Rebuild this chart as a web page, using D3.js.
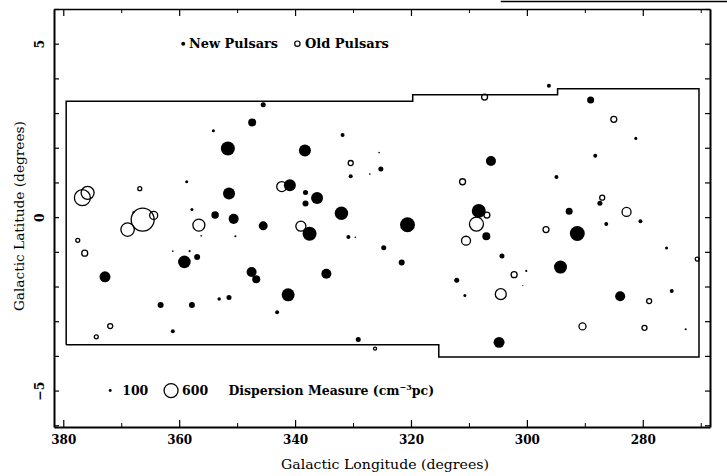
<!DOCTYPE html>
<html><head><meta charset="utf-8">
<script src="https://cdn.jsdelivr.net/npm/d3@7"></script>
<style>body{margin:0;background:#fff}</style>
</head><body>
<svg id="c" width="727" height="476"></svg>
<script>
// ---- data (galactic longitude, latitude in degrees; DM in cm^-3 pc) ----
const newLon = [354.1,351.6,358.7,351.4,353.8,350.6,367.9,357.8,356.2,350.3,
  361.1,358.2,359.1,356.9,372.8,353.1,351.4,363.2,357.8,361.1,
  345.5,347.4,338.3,331.8,325.5,330.4,327.1,325.2,340.9,338.2,
  336.2,338.2,332.0,345.5,337.5,330.8,329.6,324.7,347.5,346.7,
  334.6,341.2,343.1,329.1,306.2,308.3,320.6,307.0,321.6,304.3,
  300.1,300.7,312.1,310.7,304.8,296.2,289.0,281.2,288.2,294.9,
  287.4,292.7,280.4,286.3,291.3,275.9,294.2,283.9,275.0,272.6];
const newLat = [2.49,1.98,1.02,0.68,0.06,-0.05,0.14,0.22,-0.54,-0.55,
  -0.98,-0.98,-1.29,-1.15,-1.72,-2.36,-2.32,-2.53,-2.53,-3.29,
  3.24,2.73,1.92,2.37,1.86,1.18,1.24,1.39,0.92,0.71,
  0.55,0.39,0.11,-0.25,-0.48,-0.57,-0.58,-0.88,-1.58,-1.79,
  -1.63,-2.24,-2.74,-3.53,1.62,0.18,-0.22,-0.55,-1.31,-1.12,
  -1.55,-1.97,-1.82,-2.26,-3.61,3.79,3.38,2.27,1.77,1.16,
  0.40,0.17,-0.12,-0.20,-0.47,-0.89,-1.44,-2.28,-2.13,-3.23];
const newDM = [130,600,130,515,320,430,90,130,70,90,
  70,90,540,257,470,150,215,257,257,170,
  215,343,515,170,70,170,70,215,515,215,
  515,257,575,385,600,170,70,215,430,343,
  430,557,170,215,430,600,640,343,257,215,
  90,50,215,130,470,170,300,130,170,170,
  215,300,170,170,640,130,557,430,170,90];

const oldLon = [376.7,375.8,366.8,366.3,368.9,364.4,356.6,377.5,376.3,371.9,
  374.3,330.4,342.3,339.0,326.2,307.3,311.1,308.7,306.9,310.5,
  302.2,304.5,285.0,287.0,282.8,296.7,270.6,290.4,278.9,279.7];
const oldLat = [0.56,0.70,0.82,-0.07,-0.36,0.05,-0.23,-0.67,-1.04,-3.14,
  -3.45,1.56,0.88,-0.26,-3.79,3.46,1.02,-0.20,0.06,-0.68,
  -1.66,-2.22,2.82,0.56,0.15,-0.36,-1.21,-3.15,-2.42,-3.19];
const oldDM = [685,557,170,985,575,343,515,170,257,215,
  170,215,430,430,130,257,257,600,257,385,
  257,470,257,215,385,257,170,300,215,215];

// survey region boundary
const boundaryLon = [379.5,379.5,319.7,319.7,294.7,294.7,270.3,270.3,315.2,315.2,379.5];
const boundaryLat = [-3.68,3.34,3.34,3.53,3.53,3.70,3.70,-4.03,-4.03,-3.68,-3.68];

// ticks
const xMajorTicks = [380,360,340,320,300,280];
const xMinorTicks = [370,350,330,310,290,270];
const yTicks = [-6,-5,-4,-3,-2,-1,0,1,2,3,4,5,6];
const yLabelTicks = [-5,0,5];

// legend
const legendDM = [100,600];
const legendDMLabels = ["100","600"];
const typeLabels = ["New Pulsars","Old Pulsars"];

// ---- drawing ----
const W = 727, H = 476;
const svg = d3.select("#c");
const x = d3.scaleLinear().domain([381.6, 268.4]).range([54, 710]);
const y = d3.scaleLinear().domain([-6.05, 6.0]).range([427, 9]);
const r = d3.scaleLinear().domain([0, 600]).range([0, 7]);
const FONT = "'DejaVu Serif', 'Liberation Serif', serif";

function styleAxis(g, sw) {
  g.select(".domain").attr("stroke", "#000").attr("stroke-width", sw);
  g.selectAll(".tick line").attr("stroke", "#000").attr("stroke-width", 1.2);
  g.selectAll("text").attr("font-family", FONT).attr("font-size", 12)
    .attr("font-weight", "bold").attr("fill", "#000");
}

// bottom axis
const gb = svg.append("g").attr("transform", `translate(0,${y.range()[0]})`)
  .call(d3.axisBottom(x).tickValues(xMajorTicks).tickSize(-7).tickSizeOuter(0)
    .tickPadding(8).tickFormat(d3.format("d")));
styleAxis(gb, 2);
svg.append("g").attr("transform", `translate(0,${y.range()[0]})`)
  .call(d3.axisBottom(x).tickValues(xMinorTicks).tickSize(-4).tickSizeOuter(0).tickFormat(""))
  .call(g => { g.select(".domain").remove(); g.selectAll("line").attr("stroke", "#000"); });

// top axis
const gt = svg.append("g").attr("transform", `translate(0,${y.range()[1]})`)
  .call(d3.axisTop(x).tickValues(xMajorTicks).tickSize(-7).tickSizeOuter(0).tickFormat(""));
styleAxis(gt, 1.6);
svg.append("g").attr("transform", `translate(0,${y.range()[1]})`)
  .call(d3.axisTop(x).tickValues(xMinorTicks).tickSize(-4).tickSizeOuter(0).tickFormat(""))
  .call(g => { g.select(".domain").remove(); g.selectAll("line").attr("stroke", "#000"); });

// left axis
const gl = svg.append("g").attr("transform", `translate(${x.range()[0]},0)`)
  .call(d3.axisLeft(y).tickValues(yTicks).tickSize(-5).tickSizeOuter(0).tickFormat(""));
styleAxis(gl, 2);
const gll = svg.append("g").attr("transform", `translate(${x.range()[0]},0)`)
  .call(d3.axisLeft(y).tickValues(yLabelTicks).tickSize(0).tickFormat(d => d < 0 ? "\u2212" + Math.abs(d) : d));
gll.select(".domain").remove();
gll.selectAll("text").attr("font-family", FONT).attr("font-size", 12.5).attr("font-weight", "bold")
  .attr("fill", "#000").attr("x", null).attr("dy", null).attr("text-anchor", "middle")
  .attr("transform", "translate(-10,0) rotate(-90)");

// right axis
const gr = svg.append("g").attr("transform", `translate(${x.range()[1]},0)`)
  .call(d3.axisRight(y).tickValues(yTicks).tickSize(-5).tickSizeOuter(0).tickFormat(""));
styleAxis(gr, 2);

// stray scan line at top right
svg.append("line").attr("x1", x(304.5)).attr("x2", W).attr("y1", 1.5).attr("y2", 1.5)
  .attr("stroke", "#000").attr("stroke-width", 1.6);

// survey boundary
const bpts = boundaryLon.map((d, i) => [d, boundaryLat[i]]);
svg.append("path").attr("d", d3.line().x(d => x(d[0])).y(d => y(d[1]))(bpts))
  .attr("fill", "none").attr("stroke", "#000").attr("stroke-width", 1.5);

// old pulsars (open)
const oldData = oldLon.map((d, i) => ({lon: d, lat: oldLat[i], dm: oldDM[i]}));
svg.append("g").selectAll("circle").data(oldData).join("circle")
  .attr("cx", d => x(d.lon)).attr("cy", d => y(d.lat)).attr("r", d => r(d.dm))
  .attr("fill", "none").attr("stroke", "#000").attr("stroke-width", 1.3);

// new pulsars (filled)
const newData = newLon.map((d, i) => ({lon: d, lat: newLat[i], dm: newDM[i]}));
svg.append("g").selectAll("circle").data(newData).join("circle")
  .attr("cx", d => x(d.lon)).attr("cy", d => y(d.lat)).attr("r", d => r(d.dm))
  .attr("fill", "#000");

// top legend
const lt = svg.append("g").attr("font-family", FONT).attr("font-size", 13).attr("font-weight", "bold");
lt.append("circle").attr("cx", x(359.3)).attr("cy", y(5)).attr("r", r(170)).attr("fill", "#000");
lt.append("text").attr("x", x(358.3)).attr("y", y(5) + 4.5)
  .attr("textLength", 89).attr("lengthAdjust", "spacingAndGlyphs").text(typeLabels[0]);
lt.append("circle").attr("cx", x(339.6)).attr("cy", y(5)).attr("r", r(230))
  .attr("fill", "none").attr("stroke", "#000").attr("stroke-width", 1.2);
lt.append("text").attr("x", x(338.3)).attr("y", y(5) + 4.5)
  .attr("textLength", 84).attr("lengthAdjust", "spacingAndGlyphs").text(typeLabels[1]);

// bottom legend (dispersion measure sizes)
const lb = svg.append("g").attr("font-family", FONT).attr("font-size", 12.5).attr("font-weight", "bold");
const legX = [371.9, 361.4];
lb.append("circle").attr("cx", x(legX[0])).attr("cy", y(-5)).attr("r", r(legendDM[0]) + 0.3).attr("fill", "#000");
lb.append("circle").attr("cx", x(legX[1])).attr("cy", y(-5)).attr("r", r(legendDM[1]))
  .attr("fill", "none").attr("stroke", "#000").attr("stroke-width", 1.3);
lb.append("text").attr("x", x(legX[0]) + 12).attr("y", y(-5) + 4.5).text(legendDMLabels[0]);
lb.append("text").attr("x", x(legX[1]) + 11).attr("y", y(-5) + 4.5).text(legendDMLabels[1]);
const dmt = lb.append("text").attr("x", x(351.5)).attr("y", y(-5) + 4.5);
dmt.append("tspan").text("Dispersion Measure (cm");
dmt.append("tspan").attr("font-size", 8).attr("dy", -5).text("\u22123");
dmt.append("tspan").attr("dy", 5).text("pc)");

// axis titles
svg.append("text").attr("x", 385).attr("y", 469).attr("text-anchor", "middle")
  .attr("font-family", FONT).attr("font-size", 12.5).attr("fill", "#000")
  .attr("textLength", 208).attr("lengthAdjust", "spacingAndGlyphs")
  .text("Galactic Longitude (degrees)");
svg.append("text").attr("transform", `translate(24,${y(0) - 1}) rotate(-90)`)
  .attr("text-anchor", "middle").attr("font-family", FONT).attr("font-size", 12.5).attr("fill", "#000")
  .attr("textLength", 190).attr("lengthAdjust", "spacingAndGlyphs")
  .text("Galactic Latitude (degrees)");
</script>
</body></html>
